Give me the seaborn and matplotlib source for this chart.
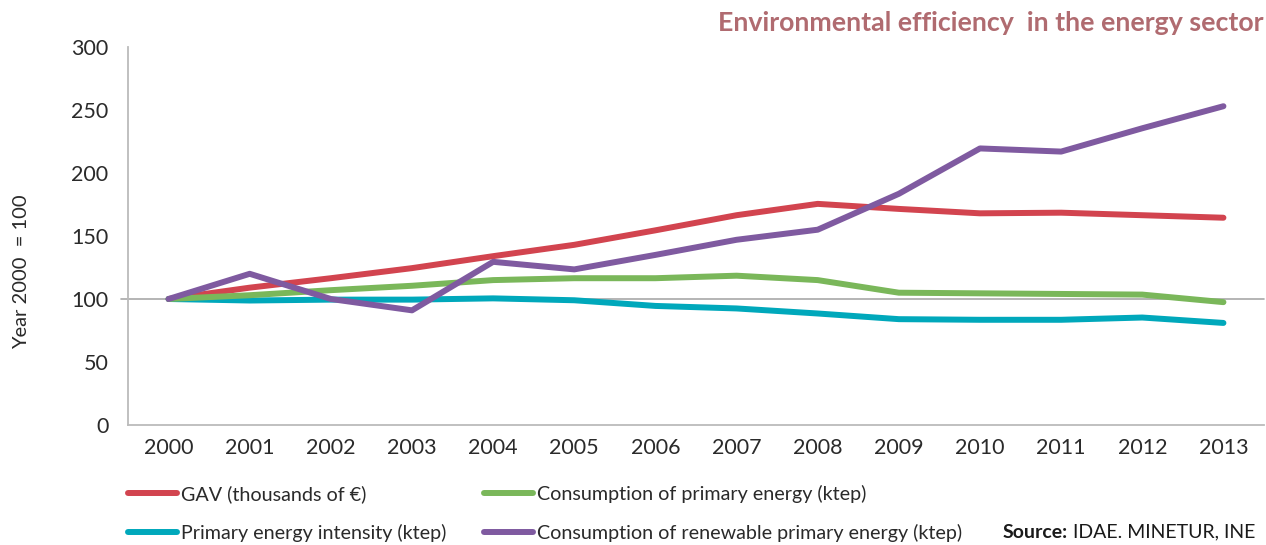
import matplotlib
matplotlib.use("Agg")
import matplotlib.pyplot as plt
import seaborn as sns
import pandas as pd
from matplotlib.lines import Line2D

years = ["2000", "2001", "2002", "2003", "2004", "2005", "2006",
         "2007", "2008", "2009", "2010", "2011", "2012", "2013"]
gav = [100, 109, 116.5, 124.5, 134, 143, 154.5, 166.5, 175.5, 171.5, 168, 168.5, 166.5, 164.5]
primary = [100, 103, 107, 110.5, 115, 116.5, 116.5, 118.5, 115, 105, 104.5, 104, 103.5, 97.5]
intensity = [100, 98.8, 99.5, 99.5, 100.5, 99, 94.5, 92.5, 88.5, 84, 83.5, 83.5, 85.3, 81]
renewable = [100, 120, 100, 91, 129.5, 123.5, 135, 147, 155, 183.5, 219.5, 217, 235.5, 253]

series_names = ["GAV (thousands of €)",
                "Primary energy intensity (ktep)",
                "Consumption of primary energy (ktep)",
                "Consumption of renewable primary energy (ktep)"]
series_values = [gav, intensity, primary, renewable]
colors = ["#d2444f", "#00a8bb", "#7ab75a", "#7f5aa0"]
yticks = [0, 50, 100, 150, 200, 250, 300]

rows = []
for name, vals in zip(series_names, series_values):
    for i, (yr, v) in enumerate(zip(years, vals)):
        rows.append({"pos": i, "year": yr, "value": v, "series": name})
df = pd.DataFrame(rows)

sns.set_style("white")
plt.rcParams["font.family"] = ["Lato", "DejaVu Sans"]
TXT = "#2a2a2a"

fig = plt.figure(figsize=(12.66, 5.45), dpi=100)
ax = fig.add_axes([128 / 1266, 120 / 545, (1264 - 128) / 1266, (425 - 47) / 545])

ax.axhline(100, color="#a8a8a8", lw=1.2, zorder=1, xmin=-0.006, clip_on=False)
sns.lineplot(data=df, x="pos", y="value", hue="series", hue_order=series_names,
             palette=dict(zip(series_names, colors)), linewidth=4.3,
             ax=ax, legend=False, solid_capstyle="round", zorder=3)

ax.set_xlim(-0.5, 13.5)
ax.set_ylim(0, 300)
ax.set_xticks(range(len(years)))
ax.set_xticklabels(years)
ax.set_yticks(yticks)
ax.tick_params(axis="x", length=0, pad=9, labelsize=15.5, labelcolor=TXT)
ax.tick_params(axis="y", direction="inout", length=8, width=1, color="#bbbbbb",
               pad=10, labelsize=15.5, labelcolor=TXT)

for s in ["top", "right"]:
    ax.spines[s].set_visible(False)
for s in ["left", "bottom"]:
    ax.spines[s].set_color("#bbbbbb")
    ax.spines[s].set_linewidth(1.3)
ax.set_xlabel("")
ax.set_ylabel("")
fig.text(22 / 1266, 1 - 272 / 545, "Year 2000  = 100", rotation=90, ha="center",
         va="center", fontsize=14.5, color=TXT)

handles = [Line2D([], [], color=c, lw=4.3, solid_capstyle="round") for c in colors]
leg = fig.legend(handles, series_names, ncol=2, loc="upper left",
                 bbox_to_anchor=(120 / 1266, 1 - 477 / 545), frameon=False,
                 handlelength=2.5, handletextpad=0.2, columnspacing=1.9,
                 labelspacing=1.05, fontsize=14.2, borderaxespad=0)
for t in leg.get_texts():
    t.set_color(TXT)

fig.text(1264 / 1266, 1 - 23 / 545, "Environmental efficiency  in the energy sector",
         ha="right", va="center", fontsize=19.3, fontweight="bold", color="#b06b70")

src2 = fig.text(1255 / 1266, 1 - 532 / 545, "IDAE. MINETUR, INE", ha="right",
                va="center", fontsize=14, color="#1a1a1a")
fig.canvas.draw()
bb = src2.get_window_extent()
fig.text((bb.x0 - 5) / 1266, 1 - 532 / 545, "Source:", ha="right", va="center",
         fontsize=14, fontweight="bold", color="#1a1a1a")

fig.savefig("out.png", dpi=100)
